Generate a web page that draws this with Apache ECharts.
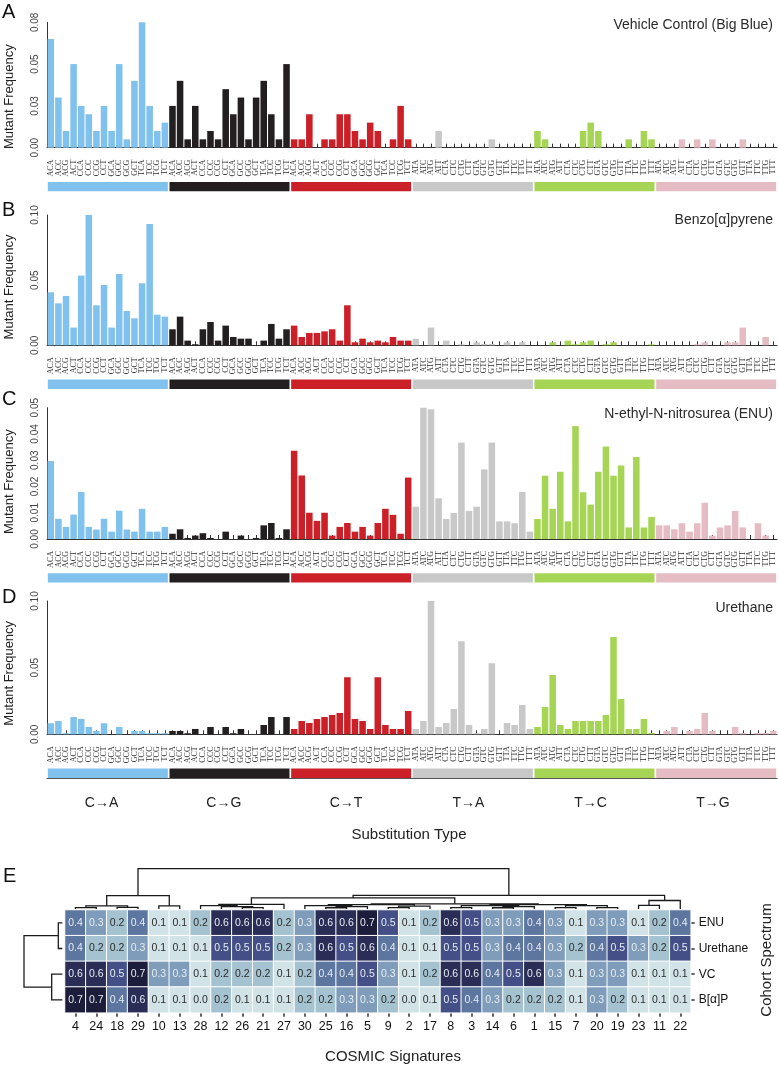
<!DOCTYPE html>
<html><head><meta charset="utf-8">
<script src="https://cdn.jsdelivr.net/npm/echarts@6/dist/echarts.min.js"></script>
<style>html,body{margin:0;padding:0;background:#fff}#c{width:779px;height:1066px}</style>
</head><body><div id="c"></div>
<script>
// ---------- DATA ----------
const C_CTX = ['ACA','ACC','ACG','ACT','CCA','CCC','CCG','CCT','GCA','GCC','GCG','GCT','TCA','TCC','TCG','TCT'];
const T_CTX = ['ATA','ATC','ATG','ATT','CTA','CTC','CTG','CTT','GTA','GTC','GTG','GTT','TTA','TTC','TTG','TTT'];
const substTypes = ['C→A','C→G','C→T','T→A','T→C','T→G'];
const categories = [...C_CTX, ...C_CTX, ...C_CTX, ...T_CTX, ...T_CTX, ...T_CTX];

// Panel A: Vehicle Control (Big Blue)
const vcCA = [0.065,0.03,0.01,0.05,0.025,0.02,0.01,0.025,0.01,0.05,0.005,0.04,0.075,0.025,0.01,0.015];
const vcCG = [0.025,0.04,0.005,0.025,0.005,0.01,0.005,0.035,0.02,0.03,0.005,0.03,0.04,0.02,0.005,0.05];
const vcCT = [0.005,0.005,0.02,0,0.005,0.005,0.02,0.02,0.01,0.005,0.015,0.01,0,0.005,0.025,0.005];
const vcTA = [0,0,0,0.01,0,0,0,0,0,0,0.005,0,0,0,0,0];
const vcTC = [0.01,0.005,0,0,0,0,0.01,0.015,0.01,0,0,0,0.005,0,0.01,0.005];
const vcTG = [0,0,0,0.005,0,0.005,0,0.005,0,0,0,0.005,0,0,0,0];
// Panel B: Benzo[a]pyrene
const bpCA = [0.0407,0.0322,0.0379,0.0136,0.0535,0.100,0.0307,0.0463,0.0136,0.0547,0.0263,0.0207,0.0476,0.0931,0.0235,0.022];
const bpCG = [0.0123,0.022,0.0036,0.0008,0.0123,0.0179,0.0036,0.0151,0.0064,0.0051,0.0051,0,0.0036,0.0164,0.0051,0.0123];
const bpCT = [0.0151,0.0064,0.0095,0.0095,0.0107,0.0123,0.0036,0.0307,0.0023,0.0051,0.0023,0.0036,0.0023,0.0064,0.0036,0.0036];
const bpTA = [0.0049,0,0.0136,0,0.0036,0,0.0008,0,0.0023,0.001,0.001,0,0.0023,0,0.0023,0];
const bpTC = [0,0,0.0023,0,0.0036,0.0008,0.0023,0.0036,0,0.0008,0.0023,0,0,0,0,0.0008];
const bpTG = [0,0,0,0,0,0.0008,0.0023,0,0,0.0023,0.0023,0.0136,0,0,0.0064,0];
// Panel C: ENU
const enCA = [0.0297,0.0077,0.0046,0.0093,0.0179,0.0046,0.0036,0.0077,0.0028,0.0108,0.0036,0.0028,0.0115,0.0028,0.0028,0.0046];
const enCG = [0.002,0.0037,0.0004,0.0013,0.0022,0.0004,0,0.0028,0,0.0013,0,0.0004,0.0052,0.0061,0.0004,0.0037];
const enCT = [0.0336,0.0242,0.01,0.0069,0.01,0.0013,0.0046,0.0061,0.0028,0.0046,0.0013,0.0061,0.0115,0.0092,0.002,0.0234];
const enTA = [0.0123,0.05,0.0494,0.0155,0.0076,0.0099,0.0367,0.0107,0.0123,0.0265,0.0367,0.0067,0.0067,0.006,0.0179,0.0028];
const enTC = [0.0076,0.0241,0.0115,0.0256,0.0067,0.043,0.0178,0.0131,0.0256,0.0352,0.0241,0.028,0.0044,0.0312,0.0044,0.0084];
const enTG = [0.0052,0.0052,0.0037,0.006,0.0028,0.006,0.0138,0.0013,0.0044,0.0052,0.0107,0.0044,0,0.006,0.0013,0];
// Panel D: Urethane
const urCA = [0.0083,0.01,0.0008,0.013,0.0115,0.0055,0.0025,0.0083,0,0.0055,0,0.0025,0.0025,0.0008,0.0008,0.0008];
const urCG = [0.0025,0.0025,0.0008,0.004,0,0.0055,0,0.0055,0.0008,0.004,0,0,0.007,0.013,0,0.013];
const urCT = [0.004,0.01,0.0085,0.0115,0.013,0.0145,0.016,0.0428,0.0115,0.01,0.004,0.0428,0.007,0.004,0.004,0.0175];
const urTA = [0.004,0.01,0.1,0.0055,0.0085,0.019,0.0698,0.007,0.0008,0.004,0.0533,0,0.0085,0.007,0.022,0.004];
const urTC = [0.0055,0.0205,0.0445,0.007,0.004,0.01,0.01,0.01,0.01,0.0145,0.073,0.0265,0.004,0.004,0.0115,0.001];
const urTG = [0,0.0025,0.0055,0,0.0025,0.004,0.016,0.0025,0,0,0.0055,0.001,0,0.001,0.001,0.0025];

const panelTitles = ['Vehicle Control (Big Blue)','Benzo[α]pyrene','N-ethyl-N-nitrosurea (ENU)','Urethane'];
const panelLetters = ['A','B','C','D'];
const yMaxes = [0.075, 0.10, 0.05, 0.10];
const yIntervals = [0.025, 0.05, 0.01, 0.05];
const yTickLabels = [
  ['0.00','0.03','0.05','0.08'],
  ['0.00','0.05','0.10'],
  ['0.00','0.01','0.02','0.03','0.04','0.05'],
  ['0.00','0.05','0.10']
];

// Heatmap E
const sigLabels = ['4','24','18','29','10','13','28','12','26','21','27','30','25','16','5','9','2','17','8','3','14','6','1','15','7','20','19','23','11','22'];
const cohorts = ['ENU','Urethane','VC','B[α]P'];
const hmENU = [0.4,0.3,0.2,0.4,0.1,0.1,0.2,0.6,0.6,0.6,0.2,0.3,0.6,0.6,0.7,0.5,0.1,0.2,0.6,0.5,0.3,0.3,0.4,0.3,0.1,0.3,0.3,0.1,0.2,0.4];
const hmURE = [0.4,0.2,0.2,0.3,0.1,0.1,0.1,0.5,0.5,0.5,0.2,0.3,0.6,0.5,0.6,0.4,0.1,0.1,0.5,0.5,0.3,0.4,0.4,0.3,0.2,0.4,0.5,0.3,0.2,0.5];
const hmVC  = [0.6,0.6,0.5,0.7,0.3,0.3,0.1,0.2,0.2,0.2,0.1,0.2,0.4,0.4,0.5,0.3,0.1,0.2,0.6,0.6,0.4,0.5,0.6,0.3,0.1,0.3,0.3,0.1,0.1,0.1];
const hmBAP = [0.7,0.7,0.4,0.6,0.1,0.1,0.0,0.2,0.1,0.1,0.1,0.2,0.2,0.3,0.3,0.2,0.0,0.1,0.5,0.4,0.3,0.2,0.2,0.2,0.1,0.3,0.2,0.1,0.1,0.1];

// Dendrograms: [childA, childB, height]; leaves 0..n-1, merges numbered from n
const colMerges = [
  [0,1,0.036],[2,3,0.041],[30,31,0.077],[4,5,0.077],[32,33,0.332],
  [8,9,0.036],[7,35,0.06],[6,36,0.085],[37,10,0.114],
  [12,13,0.031],[39,14,0.06],[15,16,0.036],[41,17,0.073],[11,40,0.085],[43,42,0.109],
  [18,19,0.036],[20,21,0.031],[46,22,0.06],[45,47,0.085],[23,24,0.036],[25,26,0.036],[49,50,0.085],[48,51,0.109],
  [44,52,0.128],[38,53,0.274],[27,28,0.09],[55,29,0.211],[54,56,0.339],[34,57,1.0]
];
const rowMerges = [[0,1,0.104],[2,3,0.277],[4,5,1.0]];

// ---------- STYLE ----------
const groupColors = ['#80C1EE','#231F20','#CB2027','#C8C8C8','#A6D556','#E5BCC3'];
const FONT = 'Liberation Sans, Arial, Helvetica, sans-serif';
const panelGeom = [
  {top:22.3, h:125.4}, {top:215, h:130.3}, {top:407.7, h:131.3}, {top:601, h:133.3}
];
const titleY = [25, 220, 414, 607.7];
const letterY = [12.5, 210.5, 399, 597.5];
const yNameY = [96.7, 287, 481.7, 673.3];

const panelVals = [
  [vcCA,vcCG,vcCT,vcTA,vcTC,vcTG],
  [bpCA,bpCG,bpCT,bpTA,bpTC,bpTG],
  [enCA,enCG,enCT,enTA,enTC,enTG],
  [urCA,urCG,urCT,urTA,urTC,urTG]
].map(arrs => [].concat(...arrs));

const grid = [], xAxis = [], yAxis = [], series = [], graphic = [];

panelVals.forEach((vals, p) => {
  const g = panelGeom[p];
  grid.push({left:47, right:2, top:g.top, height:g.h});
  xAxis.push({
    type:'category', gridIndex:grid.length-1, data:categories, offset:9,
    axisLine:{show:true, lineStyle:{color:'#333', width:1}},
    axisTick:{show:true, inside:true, length:4, alignWithLabel:true, lineStyle:{color:'#333'}},
    axisLabel:{interval:0, rotate:90, fontSize:8, fontFamily:'Liberation Serif, Times New Roman, serif', color:'#2a2a2a', margin:3}
  });
  yAxis.push({
    type:'value', gridIndex:grid.length-1, min:0, max:yMaxes[p], interval:yIntervals[p],
    axisLine:{show:true, lineStyle:{color:'#333'}}, axisTick:{show:false}, splitLine:{show:false},
    axisLabel:{rotate:90, fontSize:10, color:'#444', fontFamily:FONT, margin:7,
      formatter:(v,i)=>yTickLabels[p][i] !== undefined ? yTickLabels[p][i] : ''}
  });
  series.push({
    type:'bar', xAxisIndex:xAxis.length-1, yAxisIndex:yAxis.length-1,
    data: vals, barCategoryGap:'14%',
    itemStyle:{color:(d)=>groupColors[Math.floor(d.dataIndex/16)]}
  });
  grid.push({left:47, right:2, top:g.top+g.h+34.3, height:9.3});
  xAxis.push({type:'category', gridIndex:grid.length-1, data:substTypes,
    axisLine:{show:p===3, lineStyle:{color:'#555', width:1.2}}, offset:p===3?10:0,
    axisTick:{show:false}, axisLabel:{show:false}});
  yAxis.push({type:'value', gridIndex:grid.length-1, min:0, max:1, show:false});
  series.push({type:'bar', xAxisIndex:xAxis.length-1, yAxisIndex:yAxis.length-1,
    data: substTypes.map(()=>1), barWidth:120,
    itemStyle:{color:(d)=>groupColors[d.dataIndex]}});

  graphic.push({type:'text', x:2, y:letterY[p], style:{text:panelLetters[p], font:'20px '+FONT, fill:'#111', textAlign:'left', textVerticalAlign:'middle', align:'left', verticalAlign:'middle'}});
  graphic.push({type:'text', x:773, y:titleY[p], style:{text:panelTitles[p], font:'14px '+FONT, fill:'#2a2a2a', textAlign:'right', textVerticalAlign:'middle', align:'right', verticalAlign:'middle'}});
  graphic.push({type:'text', x:9, y:yNameY[p], rotation:Math.PI/2, style:{text:'Mutant Frequency', font:'13px '+FONT, fill:'#222', textAlign:'center', textVerticalAlign:'middle', align:'center', verticalAlign:'middle'}});
});

// substitution type labels grid
grid.push({left:40.4, width:733.6, top:777, height:10.3});
xAxis.push({type:'category', gridIndex:grid.length-1, data:substTypes,
  axisLine:{show:false}, axisTick:{show:false},
  axisLabel:{fontSize:14, color:'#222', fontFamily:FONT, margin:9}});
yAxis.push({type:'value', gridIndex:grid.length-1, show:false, min:0, max:1});

// heatmap grid
grid.push({left:65, width:625.7, top:910, height:102.7});
const hmGrid = grid.length-1;
xAxis.push({type:'category', gridIndex:hmGrid, data:sigLabels,
  axisLine:{show:false}, axisTick:{show:true, length:4, alignWithLabel:true, lineStyle:{color:'#333', width:1.5}},
  axisLabel:{fontSize:12.5, color:'#111', fontFamily:FONT, margin:7}, splitLine:{show:false}});
yAxis.push({type:'category', gridIndex:hmGrid, data:cohorts, inverse:true, position:'right',
  axisLine:{show:false}, axisTick:{show:true, length:4, alignWithLabel:true, lineStyle:{color:'#333', width:1.5}},
  axisLabel:{fontSize:12, color:'#111', fontFamily:FONT, margin:8}, splitLine:{show:false}});
const hmData = [];
[hmENU, hmURE, hmVC, hmBAP].forEach((row, r) => row.forEach((v, c) => hmData.push([c, r, v])));
series.push({type:'heatmap', xAxisIndex:xAxis.length-1, yAxisIndex:yAxis.length-1, data:hmData,
  itemStyle:{borderColor:'#fff', borderWidth:1},
  label:{show:true, fontFamily:FONT,
    formatter:(d)=> (d.value[2] >= 0.25 ? '{w|' : '{k|') + d.value[2].toFixed(1) + '}',
    rich:{w:{color:'#E6ECF2', fontSize:10.5, fontFamily:FONT}, k:{color:'#2b2b2b', fontSize:10.5, fontFamily:FONT}}}
});
const hmSeriesIndex = series.length-1;

function dendro(n, merges, swap) {
  const pos = [];
  for (let i = 0; i < n; i++) pos.push([i, 0]);
  const segs = [];
  merges.forEach(([a, b, h]) => {
    const pa = pos[a], pb = pos[b];
    let pts = [[pa[0], pa[1]], [pa[0], h], [pb[0], h], [pb[0], pb[1]]];
    if (swap) pts = pts.map(q => [q[1], q[0]]);
    segs.push({coords: pts});
    pos.push([(pa[0] + pb[0]) / 2, h]);
  });
  return segs;
}
grid.push({left:65, width:625.7, top:868.7, height:40.3});
xAxis.push({type:'value', gridIndex:grid.length-1, min:-0.5, max:29.5, show:false});
yAxis.push({type:'value', gridIndex:grid.length-1, min:0, max:1, show:false});
series.push({type:'lines', coordinateSystem:'cartesian2d', xAxisIndex:xAxis.length-1, yAxisIndex:yAxis.length-1,
  polyline:true, silent:true, data:dendro(30, colMerges, false), lineStyle:{color:'#1a1a1a', width:1.3, opacity:1}});
grid.push({left:24, width:38.3, top:910, height:102.7});
xAxis.push({type:'value', gridIndex:grid.length-1, min:0, max:1, inverse:true, show:false});
yAxis.push({type:'value', gridIndex:grid.length-1, min:-0.5, max:3.5, inverse:true, show:false});
series.push({type:'lines', coordinateSystem:'cartesian2d', xAxisIndex:xAxis.length-1, yAxisIndex:yAxis.length-1,
  polyline:true, silent:true, data:dendro(4, rowMerges, true), lineStyle:{color:'#1a1a1a', width:1.3, opacity:1}});

graphic.push({type:'text', x:409, y:835, style:{text:'Substitution Type', font:'15px '+FONT, fill:'#222', textAlign:'center', textVerticalAlign:'middle', align:'center', verticalAlign:'middle'}});
graphic.push({type:'text', x:3, y:876.5, style:{text:'E', font:'20px '+FONT, fill:'#111', textAlign:'left', textVerticalAlign:'middle', align:'left', verticalAlign:'middle'}});
graphic.push({type:'text', x:393, y:1056.7, style:{text:'COSMIC Signatures', font:'15px '+FONT, fill:'#222', textAlign:'center', textVerticalAlign:'middle', align:'center', verticalAlign:'middle'}});
graphic.push({type:'text', x:766.7, y:960, rotation:Math.PI/2, style:{text:'Cohort Spectrum', font:'15px '+FONT, fill:'#222', textAlign:'center', textVerticalAlign:'middle', align:'center', verticalAlign:'middle'}});

const chart = echarts.init(document.getElementById('c'), null, {renderer:'canvas'});
chart.setOption({
  animation:false,
  backgroundColor:'#fff',
  textStyle:{fontFamily:FONT},
  grid, xAxis, yAxis, series, graphic,
  visualMap:{show:false, type:'continuous', seriesIndex:hmSeriesIndex, min:0.1, max:0.7,
    inRange:{color:['#D2E3E8','#A4C2CF','#7F9DBA','#5D76A0','#434F86','#2A2E57','#1C1D3A']}}
});
</script></body></html>
